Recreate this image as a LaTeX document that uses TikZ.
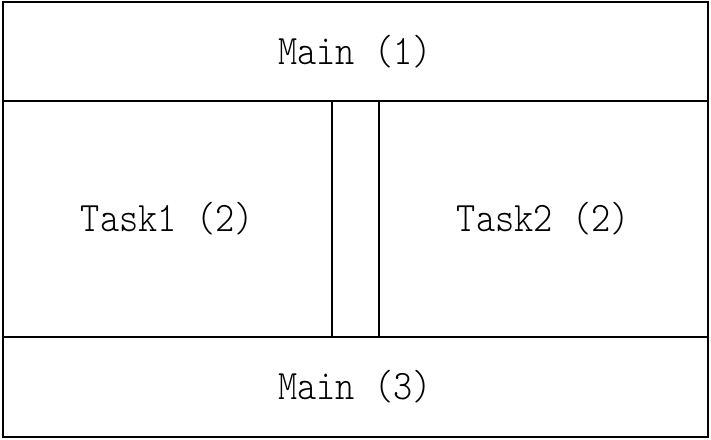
\documentclass[tikz,border=0pt]{standalone}
\usepackage{fontspec}
\newfontfamily\mono{Latin Modern Mono Light}[FakeStretch=0.87]
\tikzset{every node/.style={draw,line width=2pt,inner sep=0pt,font=\mono\fontsize{42}{44}\selectfont}}
\tikzset{wide/.style = {rectangle,minimum width=705pt,minimum height=99.5pt}}
\tikzset{half/.style = {rectangle,minimum height=236pt}}

\begin{document}
\begin{tikzpicture}[x=1pt,y=-1pt]
      \useasboundingbox (0,0) rectangle (711,439);
      \node[wide] (main1) at (355,51.25) {Main (1)};
      \node[half,minimum width=329.5pt] (task1) at (167.25,219) {Task1 (2)};
      \node[half,minimum width=47pt] (gap) at (355.5,219) {};
      \node[half,minimum width=328.5pt] (task2) at (543.25,219) {Task2 (2)};
      \node[wide] (main3) at (355,386.75) {Main (3)};
\end{tikzpicture}
\end{document}
